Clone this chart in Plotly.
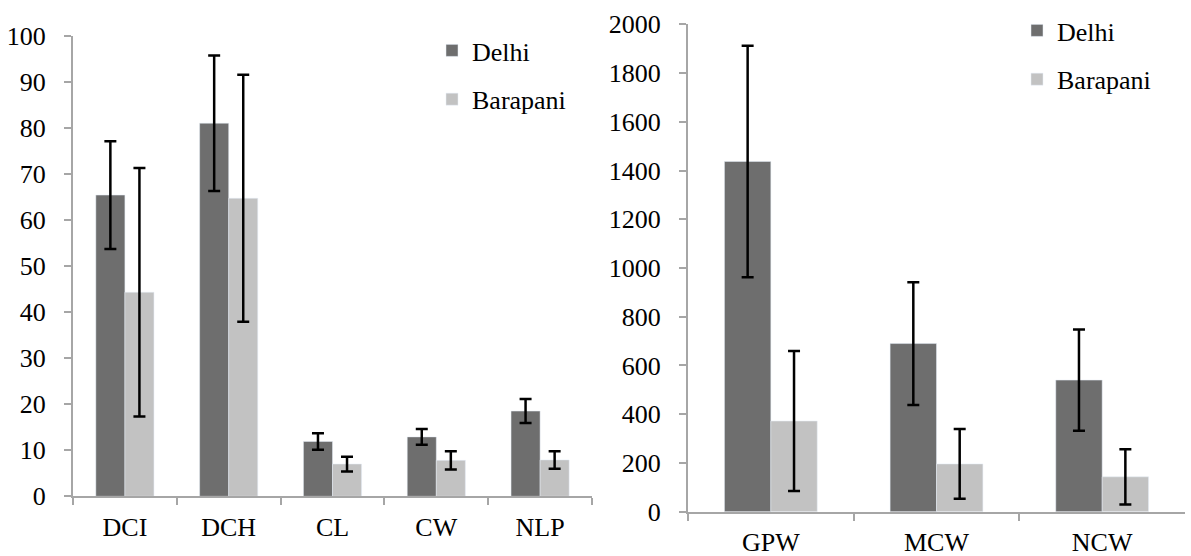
import plotly.graph_objects as go

# Left panel data
cats_left = ["DCI", "DCH", "CL", "CW", "NLP"]
delhi_left = [65.4, 81.0, 11.9, 12.9, 18.5]
delhi_left_err = [11.7, 14.7, 1.8, 1.7, 2.6]
barapani_left = [44.3, 64.7, 7.0, 7.8, 7.9]
barapani_left_err = [27.0, 26.8, 1.6, 2.0, 1.9]

# Right panel data
cats_right = ["GPW", "MCW", "NCW"]
delhi_right = [1437, 690, 540]
delhi_right_err = [475, 252, 208]
barapani_right = [372, 196, 143]
barapani_right_err = [287, 143, 113]

series_names = ["Delhi", "Barapani"]
left_ticks = [0, 10, 20, 30, 40, 50, 60, 70, 80, 90, 100]
right_ticks = [0, 200, 400, 600, 800, 1000, 1200, 1400, 1600, 1800, 2000]

DELHI_COLOR = "#6e6e6e"
BARA_COLOR = "#c2c2c2"
AXIS_COLOR = "#a6a6a6"
FONT = "Liberation Serif"
FS = 26

W, H = 1191, 556

def err(vals):
    return dict(type="data", array=vals, visible=True, color="black", thickness=2.5, width=6)

fig = go.Figure()
fig.add_trace(go.Bar(x=cats_left, y=delhi_left, name=series_names[0], marker_color=DELHI_COLOR,
                     error_y=err(delhi_left_err), xaxis="x", yaxis="y", legend="legend",
                     legendgroup="a"))
fig.add_trace(go.Bar(x=cats_left, y=barapani_left, name=series_names[1], marker_color=BARA_COLOR,
                     error_y=err(barapani_left_err), xaxis="x", yaxis="y", legend="legend",
                     legendgroup="b"))
fig.add_trace(go.Bar(x=cats_right, y=delhi_right, name=series_names[0], marker_color=DELHI_COLOR,
                     error_y=err(delhi_right_err), xaxis="x2", yaxis="y2", legend="legend2",
                     legendgroup="c"))
fig.add_trace(go.Bar(x=cats_right, y=barapani_right, name=series_names[1], marker_color=BARA_COLOR,
                     error_y=err(barapani_right_err), xaxis="x2", yaxis="y2", legend="legend2",
                     legendgroup="d"))

axis_common = dict(showline=True, linecolor=AXIS_COLOR, linewidth=2, showgrid=False, zeroline=False,
                   ticks="outside", tickcolor=AXIS_COLOR, tickwidth=2, ticklen=7, automargin=False,
                   tickfont=dict(family=FONT, size=FS, color="black"))

fig.update_layout(
    width=W, height=H,
    margin=dict(l=0, r=0, t=0, b=0, pad=0),
    paper_bgcolor="white", plot_bgcolor="white",
    barmode="group", bargap=0.44, bargroupgap=0,
    font=dict(family=FONT, size=FS, color="black"),
    xaxis=dict(domain=[73 / W, 592 / W], anchor="y", tickson="boundaries",
               ticklabelstandoff=6, **axis_common),
    yaxis=dict(domain=[1 - 496.3 / H, 1 - 35.7 / H], anchor="x", range=[0, 100],
               tickvals=left_ticks, ticklabelstandoff=13, **axis_common),
    xaxis2=dict(domain=[688 / W, 1185 / W], anchor="y2", tickson="boundaries",
                ticklabelstandoff=6, **axis_common),
    yaxis2=dict(domain=[1 - 511.7 / H, 1 - 24.3 / H], anchor="x2", range=[0, 2000],
                tickvals=right_ticks, ticklabelstandoff=13, **axis_common),
    legend=dict(x=432 / W, y=1 - 27 / H, xanchor="left", yanchor="top", bgcolor="rgba(0,0,0,0)",
                font=dict(family=FONT, size=FS), tracegroupgap=12, itemwidth=30),
    legend2=dict(x=1017 / W, y=1 - 7 / H, xanchor="left", yanchor="top", bgcolor="rgba(0,0,0,0)",
                 font=dict(family=FONT, size=FS), tracegroupgap=12, itemwidth=30),
)

fig.write_html("out.html", config={"displayModeBar": False},
               post_script="document.body.style.margin='0';document.body.style.overflow='hidden';")
